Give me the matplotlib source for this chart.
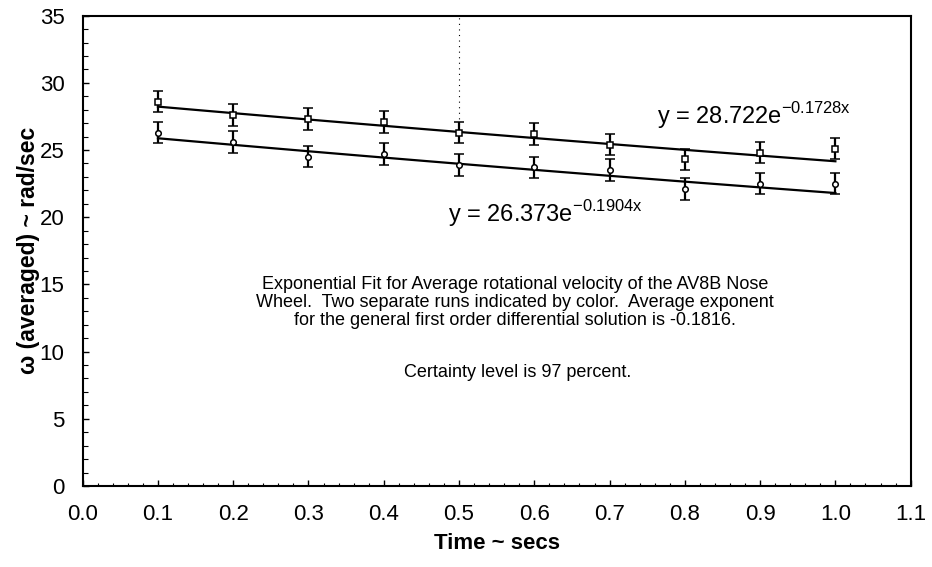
import numpy as np
import matplotlib
matplotlib.use("Agg")
import matplotlib.pyplot as plt
from matplotlib.ticker import MultipleLocator, FormatStrFormatter

plt.rcParams['font.family'] = ['Liberation Sans', 'DejaVu Sans']
plt.rcParams['mathtext.fontset'] = 'custom'
plt.rcParams['mathtext.rm'] = 'Liberation Sans'

# --- DATA ---
time_s = [0.1, 0.2, 0.3, 0.4, 0.5, 0.6, 0.7, 0.8, 0.9, 1.0]
run1 = [28.6, 27.6, 27.3, 27.1, 26.3, 26.2, 25.4, 24.3, 24.8, 25.1]   # squares
run2 = [26.3, 25.6, 24.5, 24.7, 23.9, 23.7, 23.5, 22.1, 22.5, 22.5]   # circles
err1 = [0.8] * 10
err2 = [0.8] * 10

# exponential fit coefficients shown on the chart
fit1 = (28.722, -0.1728)
fit2 = (26.373, -0.1904)

note = ("Exponential Fit for Average rotational velocity of the AV8B Nose\n"
        "Wheel.  Two separate runs indicated by color.  Average exponent\n"
        "for the general first order differential solution is -0.1816.")
note2 = "Certainty level is 97 percent."

# --- PLOT ---
fig = plt.figure(figsize=(9.32, 5.67), dpi=100)
ax = fig.add_axes([0.0887, 0.1429, 0.8884, 0.8295])

# faint scanner-like dotted line at 0.5
ax.plot([0.5, 0.5], [26.5, 35], color='black', lw=0.8, ls=(0, (1, 4)), zorder=1)

xf = np.linspace(time_s[0], time_s[-1], 50)
ax.plot(xf, fit1[0] * np.exp(fit1[1] * xf), color='black', lw=1.6, zorder=2)
ax.plot(xf, fit2[0] * np.exp(fit2[1] * xf), color='black', lw=1.6, zorder=2)

ax.errorbar(time_s, run1, yerr=err1, fmt='s', ms=5, mfc='white', mec='black',
            mew=1.1, ecolor='black', elinewidth=1.6, capsize=3.6, capthick=1.6, zorder=3)
ax.errorbar(time_s, run2, yerr=err2, fmt='o', ms=4, mfc='white', mec='black',
            mew=1.1, ecolor='black', elinewidth=1.6, capsize=3.6, capthick=1.6, zorder=3)

ax.text(0.763, 27.6, r'y = 28.722e$^{\mathrm{-0.1728x}}$', fontsize=17,
        ha='left', va='center')
ax.text(0.485, 20.3, r'y = 26.373e$^{\mathrm{-0.1904x}}$', fontsize=17,
        ha='left', va='center')

ax.text(0.574, 13.65, note, fontsize=13, ha='center', va='center', linespacing=1.1)
ax.text(0.578, 8.46, note2, fontsize=13, ha='center', va='center')

ax.set_xlim(0, 1.1)
ax.set_ylim(0, 35)
ax.xaxis.set_major_locator(MultipleLocator(0.1))
ax.xaxis.set_major_formatter(FormatStrFormatter('%.1f'))
ax.xaxis.set_minor_locator(MultipleLocator(0.02))
ax.yaxis.set_major_locator(MultipleLocator(5))
ax.yaxis.set_minor_locator(MultipleLocator(1))

ax.tick_params(axis='both', which='both', direction='in', labelsize=16)
ax.tick_params(axis='both', which='major', length=4, width=1)
ax.tick_params(axis='both', which='minor', length=3.5, width=0.8)
ax.tick_params(axis='x', which='minor', length=2)
ax.tick_params(axis='x', pad=13)
ax.tick_params(axis='y', pad=13)

for s in ax.spines.values():
    s.set_linewidth(1.5)

ax.set_xlabel('Time ~ secs', fontsize=16, fontweight='bold', labelpad=6)
ax.set_ylabel('ω (averaged) ~ rad/sec', fontsize=16.5, fontweight='bold', labelpad=0)

plt.savefig('out.png', dpi=100)
